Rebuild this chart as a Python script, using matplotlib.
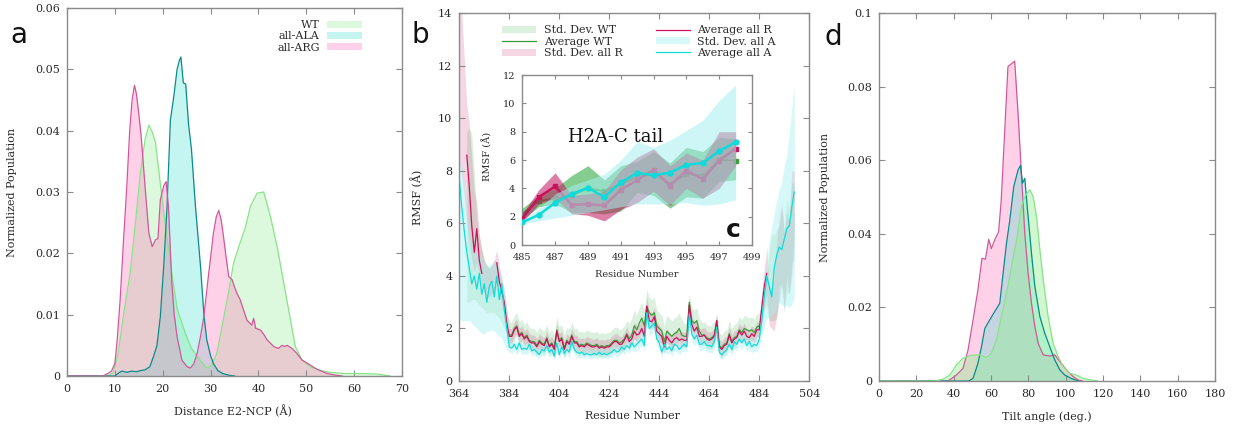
import numpy as np
import matplotlib
matplotlib.use("Agg")
import matplotlib.pyplot as plt
from matplotlib.patches import Patch
from matplotlib.lines import Line2D

plt.rcParams['font.family'] = 'DejaVu Serif'
plt.rcParams['mathtext.fontset'] = 'dejavuserif'

nan = np.nan

# ---------------- panel a : distance E2-NCP distributions ----------------
dist_wt_x = [0, 8, 9, 9.6, 10.5, 11.1, 12, 13.2, 14.3, 15.3, 16.3, 17.1, 17.8, 18.5, 19.4, 20.5,
             21.9, 23, 24.7, 26, 27.8, 29.2, 30.3, 31.3, 32.5, 33.6, 34.8, 35.9, 37.3, 38.3, 39.7,
             41.1, 42.5, 43.9, 45.3, 46.7, 47.7, 49.1, 50.8, 52.9, 55, 58, 62, 65, 67.5]
dist_wt_y = [0, 0, 0.0002, 0.0005, 0.003, 0.0059, 0.011, 0.0168, 0.025, 0.033, 0.0385, 0.0409,
             0.0398, 0.038, 0.032, 0.025, 0.0167, 0.011, 0.0070, 0.0045, 0.0026, 0.0013, 0.0018,
             0.0037, 0.0085, 0.013, 0.0184, 0.0211, 0.0243, 0.0276, 0.0298, 0.030, 0.026, 0.0211,
             0.0151, 0.0091, 0.0048, 0.0026, 0.0015, 0.0009, 0.0006, 0.0004, 0.0004, 0.0003, 0]

dist_ala_x = [0, 10, 10.8, 11.5, 12.5, 13.5, 14.5, 15.5, 16.3, 17.3, 18.0, 18.8, 19.5, 20.2, 20.9,
              21.6, 22.3, 23.0, 23.5, 23.8, 24.3, 24.8, 25.4, 26.0, 26.8, 27.9, 28.6, 29.2, 30.0,
              30.6, 31.5, 32.5, 34, 35]
dist_ala_y = [0, 0, 0.0005, 0.0008, 0.0006, 0.0008, 0.0007, 0.0009, 0.0010, 0.0015, 0.003, 0.005,
              0.0097, 0.0178, 0.0276, 0.0417, 0.0455, 0.050, 0.0515, 0.052, 0.0478, 0.0476, 0.041,
              0.037, 0.028, 0.0178, 0.010, 0.0059, 0.0033, 0.002, 0.0009, 0.0004, 0.0001, 0]

dist_arg_x = [0, 7.5, 8.5, 9.3, 10.0, 10.5, 11.1, 11.8, 12.5, 13.1, 13.6, 14.1, 14.5, 15.0, 15.5,
              16.0, 16.5, 17.1, 17.8, 18.5, 19.0, 19.5, 20.2, 20.7, 21.2, 21.9, 22.4, 23.0, 24.0,
              25.1, 25.8, 26.5, 27.2, 27.9, 28.6, 29.6, 30.6, 31.2, 31.7, 32.2, 32.7, 33.3, 33.8,
              34.5, 35.0, 35.5, 36.2, 37.0, 37.6, 38.6, 39.0, 39.4, 40.4, 41.1, 41.8, 43.2, 44.2,
              44.9, 45.5, 46.0, 47.0, 48.0, 49.1, 50.0, 50.8, 52.0, 52.9, 54.0, 55.0, 56.5, 57.5]
dist_arg_y = [0, 0, 0.0004, 0.0008, 0.002, 0.006, 0.0124, 0.022, 0.031, 0.040, 0.045, 0.0474,
              0.046, 0.0428, 0.039, 0.034, 0.029, 0.0233, 0.0211, 0.0222, 0.0224, 0.0287, 0.031,
              0.0317, 0.0276, 0.0151, 0.010, 0.0064, 0.0026, 0.0015, 0.0013, 0.002, 0.0037, 0.0065,
              0.0097, 0.0167, 0.0233, 0.026, 0.027, 0.0255, 0.0227, 0.019, 0.0162, 0.0157, 0.0145,
              0.0135, 0.0124, 0.0105, 0.0091, 0.0083, 0.0094, 0.0078, 0.0075, 0.0068, 0.0059,
              0.0048, 0.0045, 0.005, 0.0048, 0.005, 0.0045, 0.0037, 0.0026, 0.0022, 0.0018,
              0.0012, 0.0009, 0.0005, 0.0003, 0.0001, 0]

# ---------------- panel d : tilt angle distributions ----------------
tilt_wt_x = [0, 30, 34.3, 37.9, 41.5, 45, 49.5, 54, 57.6, 60.2, 62.9, 65.6, 68.3, 71, 73.7, 76.3,
             78.1, 80.8, 82.6, 84.4, 86.2, 88, 90.6, 93.3, 96, 98.7, 102.3, 105.8, 109.4, 114.8, 117]
tilt_wt_y = [0, 0, 0.0005, 0.0016, 0.0044, 0.0062, 0.007, 0.0071, 0.0064, 0.0075, 0.0112, 0.0175,
             0.0238, 0.0311, 0.0383, 0.0474, 0.0501, 0.052, 0.0501, 0.0447, 0.0356, 0.0275, 0.0175,
             0.0102, 0.0066, 0.0039, 0.0021, 0.0016, 0.0007, 0.0002, 0]

tilt_ala_x = [0, 48, 50.4, 53, 54.9, 56.7, 59.3, 62, 64.7, 66.5, 68.3, 70.1, 72.2, 74.5, 75.8, 76.9,
              78.1, 79.4, 81.7, 83.5, 86.2, 88.8, 91.5, 94.2, 96.9, 99.6, 103, 106.7]
tilt_ala_y = [0, 0, 0.0007, 0.0048, 0.0093, 0.0143, 0.0166, 0.0189, 0.0211, 0.0293, 0.0374, 0.0438,
              0.0529, 0.0574, 0.0586, 0.0538, 0.0551, 0.0474, 0.0347, 0.0257, 0.0175, 0.013, 0.0093,
              0.0057, 0.003, 0.0016, 0.0007, 0]

tilt_arg_x = [0, 37, 41.4, 45, 47.7, 50.4, 53, 55.2, 57, 58.8, 60.2, 62, 64.1, 65.5, 67.3, 69.1,
              72.7, 74.5, 76.3, 78.1, 79.9, 81.7, 83.5, 85.3, 88, 91.5, 94.2, 96.9, 100.5, 104,
              106.7, 109]
tilt_arg_y = [0, 0, 0.0016, 0.0034, 0.0084, 0.0166, 0.0248, 0.0334, 0.0331, 0.0385, 0.036, 0.0384,
              0.0406, 0.0492, 0.0674, 0.0855, 0.087, 0.0728, 0.0565, 0.0402, 0.0293, 0.0211, 0.0148,
              0.0102, 0.0071, 0.0068, 0.0071, 0.0053, 0.003, 0.0012, 0.0003, 0]

# ---------------- panel b : RMSF per residue (364-498) ----------------
resid = np.arange(364, 499)

a_avg = [7.7, 6.6, 5.7, 4.9, 4.3, 3.7, 4.0, 3.5, 4.1, 3.3,
         3.7, 3.0, 3.6, 3.8, 3.2, 4.0, 3.1, 3.7, 2.7, 2.0,
         1.3, 1.25, 1.4, 1.2, 1.45, 1.2, 1.25, 1.2, 1.4, 1.15,
         1.2, 1.1, 1.0, 1.2, 1.15, 1.35, 1.1, 1.2, 0.95, 1.45,
         1.0, 1.3, 1.05, 1.2, 1.1, 1.5, 1.2, 1.1, 1.05, 1.1,
         1.0, 1.05, 1.0, 1.0, 1.05, 1.0, 1.1, 1.0, 1.05, 1.0,
         1.05, 1.1, 1.2, 1.1, 1.15, 1.3, 1.2, 1.35, 1.25, 1.45,
         1.3, 1.4, 1.5, 1.6, 1.35, 2.6, 2.0, 2.1, 2.2, 1.6,
         1.45, 1.1, 1.4, 1.2, 1.3, 1.15, 1.4, 1.35, 1.2, 1.3,
         1.4, 1.3, 2.55, 1.8, 1.6, 1.75, 1.4, 1.4, 1.5, 1.35,
         1.35, 1.3, 1.5, 2.05, 1.1, 1.0, 1.1, 1.2, 1.4, 1.2,
         1.5, 1.4, 1.6, 1.45, 1.6, 1.35, 1.5, 1.3, 1.4, 1.35,
         1.6, 2.3, 3.2, 4.0, 3.6, 3.2, 4.3, 4.8, 5.1, 5.0,
         5.4, 5.8, 5.9, 6.6, 7.2]
a_lo = [2.4, 2.3, 2.3, 2.3, 2.3, 2.2, 2.1, 2.0, 1.9, 1.8,
        1.8, 1.9, 1.9, 1.95, 1.9, 1.8, 1.7, 1.6, 1.4, 1.2,
        1.1, 1.05, 1.15, 1.0, 1.2, 1.0, 1.05, 1.0, 1.15, 0.95,
        1.0, 0.9, 0.85, 1.0, 0.95, 1.1, 0.9, 1.0, 0.8, 1.2,
        0.85, 1.05, 0.9, 1.0, 0.9, 1.25, 1.0, 0.9, 0.9, 0.9,
        0.85, 0.9, 0.85, 0.85, 0.9, 0.85, 0.9, 0.85, 0.9, 0.85,
        0.9, 0.9, 1.0, 0.9, 0.95, 1.1, 1.0, 1.15, 1.05, 1.2,
        1.1, 1.2, 1.25, 1.35, 1.15, 2.2, 1.7, 1.8, 1.9, 1.35,
        1.2, 0.9, 1.15, 1.0, 1.1, 0.95, 1.15, 1.1, 1.0, 1.1,
        1.15, 1.1, 2.2, 1.5, 1.35, 1.5, 1.15, 1.15, 1.25, 1.1,
        1.1, 1.05, 1.25, 1.75, 0.9, 0.85, 0.9, 1.0, 1.15, 1.0,
        1.25, 1.15, 1.35, 1.2, 1.35, 1.1, 1.25, 1.05, 1.15, 1.1,
        1.3, 1.7, 2.1, 2.4, 2.4, 2.5, 2.6, 2.8, 3.0, 2.9,
        2.8, 2.9, 2.8, 2.9, 3.2]
a_hi = [8.4, 8.2, 7.6, 6.6, 5.8, 5.3, 5.0, 4.9, 4.8, 4.6,
        4.5, 4.4, 4.4, 4.5, 4.5, 4.6, 4.2, 4.0, 3.3, 2.6,
        1.5, 1.45, 1.65, 1.4, 1.7, 1.4, 1.45, 1.4, 1.65, 1.35,
        1.4, 1.3, 1.2, 1.4, 1.35, 1.6, 1.3, 1.4, 1.15, 1.7,
        1.2, 1.55, 1.25, 1.4, 1.3, 1.75, 1.4, 1.3, 1.25, 1.3,
        1.2, 1.25, 1.2, 1.2, 1.25, 1.2, 1.3, 1.2, 1.25, 1.2,
        1.25, 1.3, 1.4, 1.3, 1.35, 1.5, 1.4, 1.55, 1.45, 1.7,
        1.5, 1.6, 1.75, 1.85, 1.6, 3.0, 2.3, 2.4, 2.5, 1.85,
        1.7, 1.3, 1.65, 1.4, 1.5, 1.35, 1.65, 1.6, 1.4, 1.5,
        1.65, 1.5, 2.9, 2.1, 1.85, 2.0, 1.65, 1.65, 1.75, 1.6,
        1.6, 1.55, 1.75, 2.35, 1.3, 1.2, 1.3, 1.4, 1.65, 1.4,
        1.75, 1.65, 1.85, 1.7, 1.85, 1.6, 1.75, 1.55, 1.65, 1.6,
        2.0, 2.9, 3.8, 4.5, 5.3, 5.9, 6.4, 6.9, 7.3, 7.6,
        8.2, 8.6, 9.4, 10.4, 11.2]

r_avg = [nan, nan, nan, 8.6, 7.4, 5.9, 4.9, 5.8, 4.6, 4.1,
         nan, nan, nan, nan, nan, 4.5, 3.8, 3.4, 3.0, 2.2,
         1.7, 1.7, 1.95, 2.05, 1.7, 1.8, 1.6, 1.7, 1.5, 1.45,
         1.45, 1.3, 1.5, 1.4, 1.35, 1.6, 1.3, 1.4, 1.2, 1.9,
         1.5, 1.6, 1.2, 1.5, 1.4, 1.7, 1.45, 1.45, 1.3, 1.35,
         1.3, 1.4, 1.35, 1.3, 1.3, 1.35, 1.25, 1.3, 1.25, 1.3,
         1.3, 1.4, 1.5, 1.5, 1.4, 1.4, 1.55, 1.75, 1.5, 1.6,
         1.9, 1.75, 1.8, 2.0, 1.7, 2.85, 2.3, 2.25, 2.45, 1.9,
         1.8, 1.7, 1.3, 1.7, 1.55, 1.45, 1.6, 1.65, 1.55, 1.6,
         1.55, 1.55, 2.9, 2.15, 1.9, 2.05, 1.7, 1.7, 1.75, 1.6,
         1.55, 1.6, 1.7, 2.3, 1.3, 1.2, 1.35, 1.4, 1.75, 1.45,
         1.6, 1.65, 1.9, 1.75, 1.9, 1.7, 1.65, 1.8, 1.7, 1.95,
         1.95, 2.8, 3.6, 4.1, nan, nan, nan, nan, nan, nan,
         nan, nan, nan, nan, nan]
r_lo = [8.3, 7.8, 7.0, 6.0, 5.2, 4.6, 4.2, 4.5, 4.0, 3.6,
        3.4, 3.2, 3.2, 3.3, 3.5, 3.9, 3.3, 2.9, 2.5, 1.8,
        1.45, 1.45, 1.7, 1.8, 1.45, 1.55, 1.35, 1.45, 1.25, 1.2,
        1.2, 1.05, 1.25, 1.15, 1.1, 1.35, 1.05, 1.15, 0.95, 1.65,
        1.25, 1.35, 0.95, 1.25, 1.15, 1.45, 1.2, 1.2, 1.05, 1.1,
        1.05, 1.15, 1.1, 1.05, 1.05, 1.1, 1.0, 1.05, 1.0, 1.05,
        1.05, 1.15, 1.25, 1.25, 1.15, 1.15, 1.3, 1.5, 1.25, 1.35,
        1.6, 1.45, 1.5, 1.7, 1.4, 2.5, 2.0, 1.95, 2.1, 1.6,
        1.5, 1.4, 1.05, 1.45, 1.3, 1.2, 1.35, 1.4, 1.3, 1.35,
        1.3, 1.3, 2.55, 1.85, 1.6, 1.75, 1.45, 1.45, 1.5, 1.35,
        1.3, 1.35, 1.45, 2.0, 1.05, 0.95, 1.1, 1.15, 1.5, 1.2,
        1.35, 1.4, 1.65, 1.5, 1.65, 1.45, 1.4, 1.55, 1.45, 1.7,
        1.7, 2.3, 2.8, 3.3, 2.1, 2.0, 1.9, 2.5, 3.0, 3.8,
        2.8, 4.0, 3.3, 4.0, 5.6]
r_hi = [15.0, 14.0, 12.3, 10.5, 9.8, 8.5, 7.2, 6.8, 5.6, 5.0,
        4.6, 4.4, 4.3, 4.4, 4.6, 5.0, 4.4, 3.9, 3.5, 2.7,
        2.0, 2.0, 2.25, 2.35, 2.0, 2.1, 1.9, 2.0, 1.8, 1.75,
        1.75, 1.6, 1.8, 1.7, 1.65, 1.9, 1.6, 1.7, 1.5, 2.2,
        1.8, 1.9, 1.5, 1.8, 1.7, 2.0, 1.75, 1.75, 1.6, 1.65,
        1.6, 1.7, 1.65, 1.6, 1.6, 1.65, 1.55, 1.6, 1.55, 1.6,
        1.6, 1.7, 1.8, 1.8, 1.7, 1.7, 1.85, 2.05, 1.8, 1.9,
        2.25, 2.1, 2.15, 2.35, 2.05, 3.2, 2.65, 2.6, 2.8, 2.25,
        2.1, 2.0, 1.6, 2.0, 1.85, 1.75, 1.9, 1.95, 1.85, 1.9,
        1.85, 1.85, 3.2, 2.5, 2.2, 2.35, 2.0, 2.0, 2.05, 1.9,
        1.85, 1.9, 2.0, 2.6, 1.6, 1.5, 1.65, 1.7, 2.05, 1.75,
        1.9, 1.95, 2.2, 2.05, 2.2, 2.0, 1.95, 2.1, 2.0, 2.25,
        2.3, 3.4, 4.3, 5.1, 3.5, 3.6, 3.9, 5.3, 6.2, 6.8,
        5.6, 6.5, 6.0, 8.0, 8.0]

wt_avg = [nan] * 20 + [
          1.75, 1.75, 2.0, 2.1, 1.75, 1.85, 1.65, 1.75, 1.55, 1.5,
          1.5, 1.35, 1.55, 1.45, 1.4, 1.65, 1.35, 1.45, 1.25, 1.95,
          1.55, 1.65, 1.25, 1.55, 1.45, 1.75, 1.5, 1.5, 1.35, 1.4,
          1.35, 1.45, 1.4, 1.35, 1.35, 1.4, 1.3, 1.35, 1.3, 1.35,
          1.35, 1.45, 1.55, 1.55, 1.45, 1.5, 1.6, 1.8, 1.6, 1.75,
          2.1, 1.95, 2.2, 2.4, 2.1, 2.85, 2.6, 2.5, 2.6, 2.1,
          2.0, 1.9, 1.5, 1.9, 1.8, 1.7, 1.8, 1.85, 2.0, 1.75,
          1.7, 1.7, 3.0, 2.3, 2.2, 2.3, 1.9, 1.75, 1.75, 1.65,
          1.6, 1.65, 1.75, 2.3, 1.35, 1.25, 1.4, 1.45, 1.8, 1.5,
          1.65, 1.7, 1.95, 1.85, 2.0, 1.95, 1.9, 1.95, 1.85, 2.05,
          2.1] + [nan] * 14
wt_lo = [nan, nan, nan, 3.0, 3.0, 3.1, 3.1, 3.0, 2.9, 2.8,
         2.7, 2.6, 2.6, 2.6, 2.6, 2.5, 2.4, 2.2, 2.0, 1.8,
         1.35, 1.35, 1.6, 1.7, 1.35, 1.45, 1.25, 1.35, 1.15, 1.1,
         1.1, 0.95, 1.15, 1.05, 1.0, 1.25, 0.95, 1.05, 0.85, 1.55,
         1.15, 1.25, 0.85, 1.15, 1.05, 1.35, 1.1, 1.1, 0.95, 1.0,
         0.95, 1.05, 1.0, 0.95, 0.95, 1.0, 0.9, 0.95, 0.9, 0.95,
         0.95, 1.05, 1.15, 1.15, 1.05, 1.1, 1.2, 1.4, 1.2, 1.35,
         1.6, 1.5, 1.7, 1.9, 1.6, 2.35, 2.1, 2.0, 2.1, 1.6,
         1.5, 1.4, 1.05, 1.45, 1.35, 1.25, 1.35, 1.4, 1.55, 1.3,
         1.3, 1.3, 2.5, 1.9, 1.8, 1.9, 1.5, 1.35, 1.35, 1.25,
         1.2, 1.25, 1.35, 1.9, 0.95, 0.85, 1.0, 1.05, 1.4, 1.1,
         1.25, 1.3, 1.55, 1.45, 1.6, 1.55, 1.5, 1.55, 1.45, 1.65,
         1.7, 1.8, 2.7, 2.9, 2.3, 2.3, 2.3, 2.4, 3.7, 3.5,
         2.6, 3.4, 3.3, 4.5, 4.6]
wt_hi = [nan, nan, nan, 9.5, 9.6, 9.4, 8.0, 6.2, 5.5, 5.0,
         4.6, 4.4, 4.3, 4.4, 4.6, 4.5, 4.2, 3.8, 3.3, 2.7,
         2.25, 2.25, 2.5, 2.6, 2.25, 2.35, 2.15, 2.25, 2.05, 2.0,
         2.0, 1.85, 2.05, 1.95, 1.9, 2.15, 1.85, 1.95, 1.75, 2.45,
         2.05, 2.15, 1.75, 2.05, 1.95, 2.25, 2.0, 2.0, 1.85, 1.9,
         1.85, 1.95, 1.9, 1.85, 1.85, 1.9, 1.8, 1.85, 1.8, 1.85,
         1.85, 1.95, 2.05, 2.05, 1.95, 2.0, 2.1, 2.3, 2.2, 2.4,
         2.7, 2.5, 2.8, 3.0, 2.7, 3.5, 3.2, 3.1, 3.2, 2.7,
         2.6, 2.5, 2.1, 2.5, 2.4, 2.3, 2.4, 2.45, 2.6, 2.35,
         2.2, 2.2, 3.25, 2.8, 2.7, 2.8, 2.4, 2.25, 2.25, 2.15,
         2.1, 2.15, 2.25, 2.5, 1.85, 1.75, 1.9, 1.95, 2.3, 2.0,
         2.15, 2.2, 2.45, 2.35, 2.5, 2.45, 2.4, 2.45, 2.35, 2.55,
         2.6, 2.6, 3.5, 4.0, 4.9, 5.6, 5.5, 5.8, 5.9, 6.6,
         5.8, 6.9, 6.6, 7.6, 7.5]

# ---------------- inset c : H2A-C tail (485-498) ----------------
tail_resid = np.arange(485, 499)
tail_wt_avg = [2.2, 3.1, 3.3, 3.5, 4.0, 3.8, 4.3, 4.8, 5.0, 4.3, 5.0, 4.9, 6.0, 5.95]
tail_wt_lo = [1.8, 2.7, 2.9, 2.3, 2.3, 2.2, 2.4, 3.7, 3.5, 2.6, 3.4, 3.3, 4.5, 4.6]
tail_wt_hi = [2.6, 3.5, 4.0, 4.9, 5.6, 4.6, 5.6, 5.9, 6.6, 5.8, 6.9, 6.6, 7.6, 7.5]
tail_r_avg = [1.87, 3.38, 4.14, 2.84, 2.88, 2.79, 3.9, 4.59, 5.32, 4.2, 5.25, 4.66, 5.96, 6.8]
tail_r_lo = [1.6, 2.9, 3.3, 2.2, 2.1, 1.7, 2.5, 3.0, 3.8, 2.8, 4.0, 3.3, 4.0, 5.6]
tail_r_hi = [2.2, 3.9, 5.1, 3.5, 3.6, 3.8, 5.3, 6.2, 6.8, 5.6, 6.5, 6.0, 8.0, 8.0]
tail_a_avg = [1.6, 2.13, 2.98, 3.6, 4.04, 3.38, 4.42, 5.08, 4.94, 5.1, 5.67, 5.79, 6.64, 7.26]
tail_a_lo = [1.5, 1.7, 1.9, 2.1, 2.3, 2.5, 2.7, 2.9, 2.9, 2.9, 3.0, 2.8, 2.9, 3.2]
tail_a_hi = [1.8, 2.6, 3.6, 4.2, 4.6, 5.0, 6.0, 7.3, 6.9, 7.4, 8.1, 8.8, 10.2, 11.3]

dist_ticks = [0, 10, 20, 30, 40, 50, 60, 70]
dist_yticks = [0, 0.01, 0.02, 0.03, 0.04, 0.05, 0.06]
dist_ylabels = ['0', '0.01', '0.02', '0.03', '0.04', '0.05', '0.06']
rmsf_xticks = [364, 384, 404, 424, 444, 464, 484, 504]
rmsf_yticks = [0, 2, 4, 6, 8, 10, 12, 14]
tail_xticks = [485, 487, 489, 491, 493, 495, 497, 499]
tail_yticks = [0, 2, 4, 6, 8, 10, 12]
tilt_xticks = [0, 20, 40, 60, 80, 100, 120, 140, 160, 180]
tilt_yticks = [0, 0.02, 0.04, 0.06, 0.08, 0.1]
tilt_ylabels = ['0', '0.02', '0.04', '0.06', '0.08', '0.1']

# colours
WT_FILL, WT_LINE = '#90ee90', '#88e488'
ALA_FILL, ALA_LINE = '#40e0d0', '#0a8a8a'
ARG_FILL, ARG_LINE = '#ff69b4', '#d0589a'
G_BAND, G_LINE = '#33aa44', '#3a9e3a'
R_BAND, R_LINE = '#c0145c', '#c8135c'
A_BAND, A_LINE = '#a8f0f0', '#10dada'
FRAME = '#8a8a8a'
TXT = '#2a2a2a'


def style_axes(ax, size=8):
    for s in ax.spines.values():
        s.set_color(FRAME)
        s.set_linewidth(1.0)
    ax.tick_params(direction='in', length=4, width=0.8, color=FRAME, top=True, right=True,
                   labelsize=size, labelcolor=TXT)
    ax.tick_params(axis='x', pad=6)
    ax.tick_params(axis='y', pad=5)


def dist_panel(ax, curves, alphas):
    for x, y, fc, lc in curves:
        ax.fill_between(x, y, 0, color=fc, alpha=alphas[fc], lw=0)
    for x, y, fc, lc in curves:
        ax.plot(x, y, color=lc, lw=0.9)


fig = plt.figure(figsize=(12.34, 4.25), dpi=100)

# ---- a ----
ax_a = fig.add_axes([0.0543, 0.1153, 0.2715, 0.8659])
dist_panel(ax_a, [(dist_wt_x, dist_wt_y, WT_FILL, WT_LINE),
                  (dist_ala_x, dist_ala_y, ALA_FILL, ALA_LINE),
                  (dist_arg_x, dist_arg_y, ARG_FILL, ARG_LINE)],
           {WT_FILL: 0.3, ALA_FILL: 0.3, ARG_FILL: 0.3})
ax_a.set_xlim(0, 70)
ax_a.set_ylim(0, 0.06)
ax_a.set_xticks(dist_ticks)
ax_a.set_yticks(dist_yticks)
ax_a.set_yticklabels(dist_ylabels)
style_axes(ax_a)
ax_a.set_xlabel('Distance E2-NCP (Å)', fontsize=8, color=TXT)
ax_a.set_ylabel('Normalized Population', fontsize=8, color=TXT)
ax_a.xaxis.set_label_coords(0.496, -0.079)
ax_a.yaxis.set_label_coords(-0.149, 0.5)
leg_a = ax_a.legend(handles=[Patch(facecolor=WT_FILL, alpha=0.3, lw=0, label='WT'),
                             Patch(facecolor=ALA_FILL, alpha=0.3, lw=0, label='all-ALA'),
                             Patch(facecolor=ARG_FILL, alpha=0.3, lw=0, label='all-ARG')],
                    loc='upper right', bbox_to_anchor=(0.88, 0.967), markerfirst=False,
                    frameon=False, fontsize=8, handlelength=3.1, handleheight=0.6,
                    handletextpad=0.7, labelspacing=0.12, borderpad=0, borderaxespad=0)
for t in leg_a.get_texts():
    t.set_color(TXT)

# ---- b ----
ax_b = fig.add_axes([0.3722, 0.1035, 0.2836, 0.8652])
ax_b.fill_between(resid, wt_lo, wt_hi, color=G_BAND, alpha=0.17, lw=0)
ax_b.plot(resid, wt_avg, color=G_LINE, lw=0.9)
ax_b.fill_between(resid, r_lo, r_hi, color=R_BAND, alpha=0.17, lw=0)
ax_b.plot(resid, r_avg, color=R_LINE, lw=0.9)
ax_b.fill_between(resid, a_lo, a_hi, color=A_BAND, alpha=0.45, lw=0)
ax_b.plot(resid, a_avg, color=A_LINE, lw=0.9)
ax_b.set_xlim(364, 504)
ax_b.set_ylim(0, 14)
ax_b.set_xticks(rmsf_xticks)
ax_b.set_yticks(rmsf_yticks)
style_axes(ax_b)
ax_b.set_xlabel('Residue Number', fontsize=8, color=TXT)
ax_b.set_ylabel('RMSF (Å)', fontsize=8, color=TXT)
ax_b.xaxis.set_label_coords(0.496, -0.082)
ax_b.yaxis.set_label_coords(-0.104, 0.5)
leg_b = ax_b.legend(handles=[Patch(facecolor=G_BAND, alpha=0.17, lw=0, label='Std. Dev. WT'),
                             Line2D([], [], color=G_LINE, lw=0.9, label='Average WT'),
                             Patch(facecolor=R_BAND, alpha=0.17, lw=0, label='Std. Dev. all R'),
                             Line2D([], [], color=R_LINE, lw=0.9, label='Average all R'),
                             Patch(facecolor=A_BAND, alpha=0.45, lw=0, label='Std. Dev. all A'),
                             Line2D([], [], color=A_LINE, lw=0.9, label='Average all A')],
                    ncol=2, loc='upper left', bbox_to_anchor=(0.122, 0.967), frameon=False,
                    fontsize=8, handlelength=3.1, handleheight=0.6, handletextpad=0.65,
                    labelspacing=0.12, columnspacing=3.0, borderpad=0, borderaxespad=0)
for t in leg_b.get_texts():
    t.set_color(TXT)

# ---- c (inset) ----
# drawn strictly in plot order, so later bands veil earlier lines
ax_c = fig.add_axes([0.4233, 0.4235, 0.1861, 0.4])
ax_c.set_facecolor('white')
ax_c.fill_between(tail_resid, tail_wt_lo, tail_wt_hi, color=G_BAND, alpha=0.6, lw=0, zorder=1)
ax_c.plot(tail_resid, tail_wt_avg, color=G_LINE, lw=1.4, marker='s', ms=2.5, zorder=2)
ax_c.fill_between(tail_resid, tail_r_lo, tail_r_hi, color=R_BAND, alpha=0.55, lw=0, zorder=3)
ax_c.plot(tail_resid, tail_r_avg, color=R_LINE, lw=1.8, marker='s', ms=3.5, zorder=4)
ax_c.fill_between(tail_resid, tail_a_lo, tail_a_hi, color=A_BAND, alpha=0.55, lw=0, zorder=5)
ax_c.plot(tail_resid, tail_a_avg, color=A_LINE, lw=1.8, marker='o', ms=3.5, zorder=6)
ax_c.set_xlim(485, 499)
ax_c.set_ylim(0, 12)
ax_c.set_xticks(tail_xticks)
ax_c.set_yticks(tail_yticks)
style_axes(ax_c, size=7)
ax_c.tick_params(length=3)
ax_c.set_xlabel('Residue Number', fontsize=7, color=TXT)
ax_c.set_ylabel('RMSF (Å)', fontsize=7, color=TXT)
ax_c.xaxis.set_label_coords(0.5, -0.147)
ax_c.yaxis.set_label_coords(-0.128, 0.52)
ax_c.text(0.2, 0.608, 'H2A-C tail', transform=ax_c.transAxes, fontsize=13,
          color='#111111', va='baseline', ha='left', zorder=7)
ax_c.text(0.92, 0.047, 'c', transform=ax_c.transAxes, fontsize=18, fontweight='bold',
          family='DejaVu Sans', color='#111111', va='baseline', ha='center', zorder=7)

# ---- d ----
ax_d = fig.add_axes([0.7123, 0.1035, 0.2723, 0.8652])
dist_panel(ax_d, [(tilt_arg_x, tilt_arg_y, ARG_FILL, ARG_LINE),
                  (tilt_ala_x, tilt_ala_y, ALA_FILL, ALA_LINE),
                  (tilt_wt_x, tilt_wt_y, WT_FILL, WT_LINE)],
           {WT_FILL: 0.42, ALA_FILL: 0.3, ARG_FILL: 0.3})
ax_d.set_xlim(0, 180)
ax_d.set_ylim(0, 0.1)
ax_d.set_xticks(tilt_xticks)
ax_d.set_yticks(tilt_yticks)
ax_d.set_yticklabels(tilt_ylabels)
style_axes(ax_d)
ax_d.set_xlabel('Tilt angle (deg.)', fontsize=8, color=TXT)
ax_d.set_ylabel('Normalized Population', fontsize=8, color=TXT)
ax_d.xaxis.set_label_coords(0.5, -0.082)
ax_d.yaxis.set_label_coords(-0.146, 0.5)

# panel letters
for x, y, s in [(10, 43.3, 'a'), (411.7, 42.7, 'b'), (825, 45, 'd')]:
    fig.text(x / 1234, 1 - y / 425, s, fontsize=20, family='DejaVu Sans', color='#111111',
             ha='left', va='baseline')

fig.savefig('out.png', dpi=100)
